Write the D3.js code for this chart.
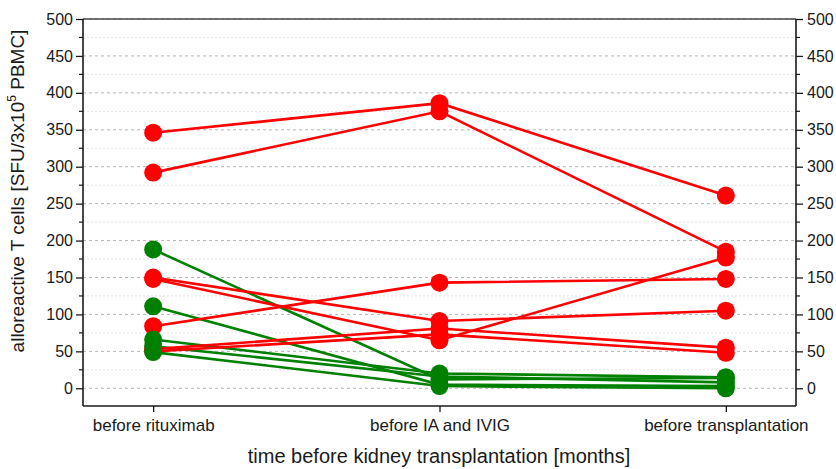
<!DOCTYPE html>
<html><head><meta charset="utf-8">
<script src="https://cdn.jsdelivr.net/npm/d3@7"></script>
<style>body{margin:0;background:#fff}svg{font-family:"Liberation Sans",Arial,sans-serif}</style>
</head><body>
<svg id="c" width="836" height="469"></svg>
<script>
const categories = ["before rituximab", "before IA and IVIG", "before transplantation"];
const redRituximab = [346, 292, 84, 150, 148, 53, 50];
const redIA        = [386, 375, 143, 91, 65, 81, 73];
const redTx        = [261, 185, 148, 105, 177, 55, 48];
const greenRituximab = [188, 111, 66, 57, 49];
const greenIA        = [12, 5, 20, 16, 3];
const greenTx        = [14, 3, 15, 8, 0];
const yTicks = [0, 50, 100, 150, 200, 250, 300, 350, 400, 450, 500];
const yMinor = [25, 75, 125, 175, 225, 275, 325, 375, 425, 475];

const svg = d3.select("#c");
const L = 83, R = 796, T = 19, B = 406;
const x = d3.scaleLinear().domain([0.755, 3.245]).range([L, R]);
const y = d3.scaleLinear().domain([-24, 500]).range([B, T]);
const ink = "#1a1a1a";

// gridlines
svg.append("g").selectAll("line").data(yMinor).join("line")
  .attr("x1", L).attr("x2", R).attr("y1", d => y(d)).attr("y2", d => y(d))
  .attr("stroke", "#e2e2e2").attr("stroke-width", 1).attr("stroke-dasharray", "2,2");
svg.append("g").selectAll("line").data(yTicks).join("line")
  .attr("x1", L).attr("x2", R).attr("y1", d => y(d)).attr("y2", d => y(d))
  .attr("stroke", "#b4b4b4").attr("stroke-width", 1).attr("stroke-dasharray", "3,3");

function series(a, b, c) { return a.map((v, i) => [a[i], b[i], c[i]]); }
const red = series(redRituximab, redIA, redTx);
const green = series(greenRituximab, greenIA, greenTx);
const line = d3.line().x((d, i) => x(i + 1)).y(d => y(d));

svg.append("g").selectAll("path").data(green).join("path")
  .attr("d", line).attr("fill", "none").attr("stroke", "#008000").attr("stroke-width", 2.6);
svg.append("g").selectAll("path").data(red).join("path")
  .attr("d", line).attr("fill", "none").attr("stroke", "#ff0000").attr("stroke-width", 2.6);

function dots(data, col) {
  const pts = [];
  data.forEach(s => s.forEach((v, i) => pts.push([i + 1, v])));
  svg.append("g").selectAll("circle").data(pts).join("circle")
    .attr("cx", d => x(d[0])).attr("cy", d => y(d[1])).attr("r", 9).attr("fill", col);
}
dots(red, "#ff0000");
dots(green, "#008000");

// frame
svg.append("line").attr("x1", L).attr("x2", R).attr("y1", T).attr("y2", T)
  .attr("stroke", "#444").attr("stroke-width", 1.6);

const leftAxis = d3.axisLeft(y).tickValues(yTicks).tickSize(7).tickPadding(3);
const gl = svg.append("g").attr("transform", `translate(${L},0)`).call(leftAxis);
const rightAxis = d3.axisRight(y).tickValues(yTicks).tickSize(7).tickPadding(4);
const gr = svg.append("g").attr("transform", `translate(${R},0)`).call(rightAxis);
[gl, gr].forEach(g => {
  g.select(".domain").attr("stroke", ink).attr("stroke-width", 1.6).attr("d", `M0,${T}V${B}`);
  g.selectAll(".tick line").attr("stroke", ink).attr("stroke-width", 1.3);
  g.selectAll(".tick text").attr("font-size", 16).attr("fill", ink).attr("font-family", "Liberation Sans, Arial, sans-serif");
});
svg.append("g").attr("transform", `translate(${L},0)`).selectAll("line").data(yMinor).join("line")
  .attr("x1", -4).attr("x2", 0).attr("y1", d => y(d)).attr("y2", d => y(d)).attr("stroke", ink).attr("stroke-width", 1.2);
svg.append("g").attr("transform", `translate(${R},0)`).selectAll("line").data(yMinor).join("line")
  .attr("x1", 0).attr("x2", 4).attr("y1", d => y(d)).attr("y2", d => y(d)).attr("stroke", ink).attr("stroke-width", 1.2);

const bottomAxis = d3.axisBottom(x).tickValues([1, 2, 3]).tickFormat((d, i) => categories[i]).tickSize(6).tickPadding(7);
const gb = svg.append("g").attr("transform", `translate(0,${B})`).call(bottomAxis);
gb.select(".domain").attr("stroke", ink).attr("stroke-width", 1.6).attr("d", `M${L},0H${R}`);
gb.selectAll(".tick line").attr("stroke", ink).attr("stroke-width", 1.3);
gb.selectAll(".tick text").attr("font-size", 17).attr("fill", ink).attr("font-family", "Liberation Sans, Arial, sans-serif");

// titles
svg.append("text").attr("x", 439).attr("y", 463).attr("text-anchor", "middle")
  .attr("font-size", 20).attr("fill", ink).text("time before kidney transplantation [months]");
const yt = svg.append("text").attr("transform", "translate(24,191) rotate(-90)").attr("text-anchor", "middle")
  .attr("font-size", 19).attr("fill", ink);
yt.append("tspan").text("alloreactive T cells [SFU/3x10");
yt.append("tspan").attr("font-size", 12).attr("dy", -8).text("5");
yt.append("tspan").attr("dy", 8).text(" PBMC]");
</script>
</body></html>
